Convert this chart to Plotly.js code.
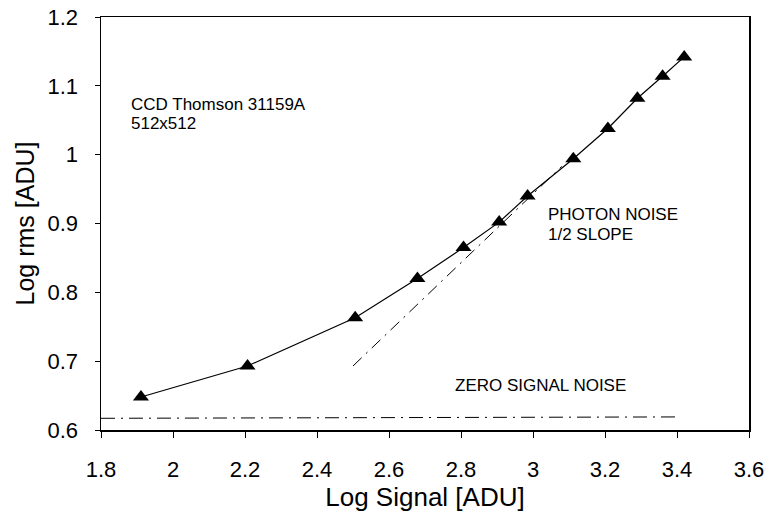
<!DOCTYPE html>
<html>
<head>
<meta charset="utf-8">
<script src="https://cdn.plot.ly/plotly-3.0.1.min.js"></script>
<style>html,body{margin:0;padding:0;background:#fff;}#chart{width:767px;height:515px;}</style>
</head>
<body>
<div id="chart"></div>
<script>
// Measured data
const logSignal = [1.911, 2.207, 2.506, 2.679, 2.807, 2.906, 2.985, 3.112, 3.208, 3.290, 3.360, 3.420];
const logRms    = [0.648, 0.693, 0.763, 0.820, 0.865, 0.902, 0.940, 0.994, 1.038, 1.082, 1.114, 1.142];

// Photon noise (1/2 slope) reference line
const photonX = [2.50, 3.08];
const photonY = [0.693, 0.983];

// Zero signal noise reference line
const zeroX = [1.80, 3.40];
const zeroY = [0.617, 0.619];

const xTickVals = [1.8, 2, 2.2, 2.4, 2.6, 2.8, 3, 3.2, 3.4, 3.6];
const yTickVals = [0.6, 0.7, 0.8, 0.9, 1, 1.1, 1.2];

const traces = [
  {x: zeroX, y: zeroY, mode: 'lines', line: {color: '#000', width: 1, dash: '14px,6px,2px,6px'}, hoverinfo: 'skip'},
  {x: photonX, y: photonY, mode: 'lines', line: {color: '#000', width: 1, dash: '12px,6px,2px,6px'}, hoverinfo: 'skip'},
  {x: logSignal, y: logRms, mode: 'lines+markers', line: {color: '#000', width: 1.2},
   marker: {symbol: 'triangle-up', size: 14, color: '#000'}}
];

const font = 'Arial, "Liberation Sans", Helvetica, sans-serif';
const annFont = {size: 17, family: font, color: '#000'};
const layout = {
  width: 767, height: 515,
  margin: {l: 101, r: 18, t: 17, b: 85},
  showlegend: false,
  paper_bgcolor: '#fff', plot_bgcolor: '#fff',
  font: {family: font, color: '#000'},
  xaxis: {
    range: [1.8, 3.6], tickvals: xTickVals, ticks: 'outside', ticklen: 6, tickwidth: 1, tickcolor: '#000',
    showline: true, linecolor: '#000', linewidth: 1.5, mirror: true, showgrid: false, zeroline: false,
    tickfont: {size: 22, family: font}, ticklabelstandoff: 13,
    title: {text: 'Log Signal [ADU]', font: {size: 26, family: font}, standoff: 2}
  },
  yaxis: {
    range: [0.6, 1.2], tickvals: yTickVals, ticks: 'outside', ticklen: 5, tickwidth: 1, tickcolor: '#000',
    showline: true, linecolor: '#000', linewidth: 1.5, mirror: true, showgrid: false, zeroline: false,
    tickfont: {size: 22, family: font}, ticklabelstandoff: 12,
    title: {text: 'Log rms [ADU]', font: {size: 25, family: font}, standoff: 6}
  },
  annotations: [
    {x: 1.877, y: 1.073, xref: 'x', yref: 'y', text: 'CCD Thomson 31159A', showarrow: false, xanchor: 'left', yanchor: 'middle', font: annFont},
    {x: 1.877, y: 1.045, xref: 'x', yref: 'y', text: '512x512', showarrow: false, xanchor: 'left', yanchor: 'middle', font: annFont},
    {x: 3.035, y: 0.913, xref: 'x', yref: 'y', text: 'PHOTON NOISE', showarrow: false, xanchor: 'left', yanchor: 'middle', font: annFont},
    {x: 3.035, y: 0.884, xref: 'x', yref: 'y', text: '1/2 SLOPE', showarrow: false, xanchor: 'left', yanchor: 'middle', font: annFont},
    {x: 2.777, y: 0.665, xref: 'x', yref: 'y', text: 'ZERO SIGNAL NOISE', showarrow: false, xanchor: 'left', yanchor: 'middle', font: annFont}
  ]
};

Plotly.newPlot('chart', traces, layout, {displayModeBar: false, staticPlot: true});
</script>
</body>
</html>
